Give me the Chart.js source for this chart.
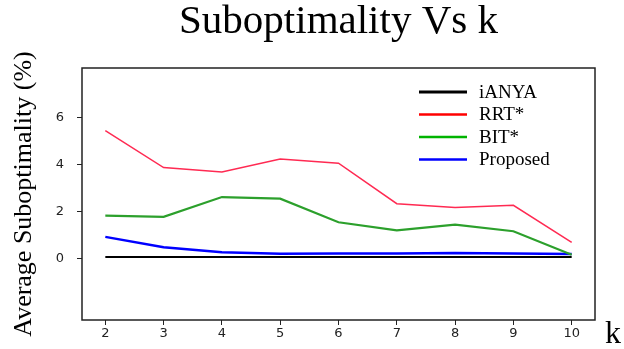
<!DOCTYPE html>
<html>
<head>
<meta charset="utf-8">
<script src="https://cdn.jsdelivr.net/npm/chart.js@4"></script>
<style>
  html, body { margin: 0; padding: 0; background: #fff; }
  #wrap { width: 624px; height: 349px; position: relative; }
</style>
</head>
<body>
<div id="wrap"><canvas id="chart"></canvas></div>
<script>
const kValues = [2, 3, 4, 5, 6, 7, 8, 9, 10];
const iANYA    = [0.07, 0.07, 0.07, 0.07, 0.07, 0.07, 0.07, 0.07, 0.07];
const rrtStar  = [5.44, 3.87, 3.68, 4.24, 4.06, 2.34, 2.18, 2.27, 0.70];
const bitStar  = [1.83, 1.78, 2.62, 2.55, 1.55, 1.21, 1.45, 1.17, 0.17];
const proposed = [0.93, 0.49, 0.28, 0.21, 0.22, 0.22, 0.25, 0.22, 0.20];
const yTicks = [0, 2, 4, 6];
const seriesNames = ['iANYA', 'RRT*', 'BIT*', 'Proposed'];

const lineColors   = ['#000000', '#ff2a52', '#2ca02c', '#0000ff'];
const legendColors = ['#000000', '#ff0000', '#00b400', '#0000ff'];
const lineWidths   = [2, 1.5, 2.2, 2.5];

const serif = '"Liberation Serif", "Times New Roman", serif';
const sans = '"DejaVu Sans", sans-serif';

const toPoints = vals => vals.map((v, i) => ({ x: kValues[i], y: v }));

// frame, title, "k" label and the legend inside the plot
const decorations = {
  id: 'decorations',
  afterDraw(chart) {
    const { ctx, chartArea: a } = chart;
    ctx.save();
    ctx.strokeStyle = '#222';
    ctx.lineWidth = 1.5;
    ctx.strokeRect(a.left, a.top, a.right - a.left, a.bottom - a.top);

    ctx.fillStyle = '#000';
    ctx.font = '41px ' + serif;
    ctx.textAlign = 'center';
    ctx.textBaseline = 'alphabetic';
    ctx.fillText('Suboptimality Vs k', (a.left + a.right) / 2, 33);

    ctx.font = '32px ' + serif;
    ctx.textAlign = 'left';
    ctx.fillText('k', a.right + 10, 343);

    const x0 = a.right - 176;
    ctx.font = '19px ' + serif;
    ctx.textBaseline = 'middle';
    seriesNames.forEach((name, i) => {
      const y = a.top + 24 + i * 22.5;
      ctx.strokeStyle = legendColors[i];
      ctx.lineWidth = i === 0 ? 3 : 2.5;
      ctx.beginPath();
      ctx.moveTo(x0, y);
      ctx.lineTo(x0 + 48, y);
      ctx.stroke();
      ctx.fillStyle = '#000';
      ctx.fillText(name, x0 + 60, y + 1);
    });
    ctx.restore();
  }
};

new Chart(document.getElementById('chart'), {
  type: 'line',
  data: {
    datasets: [iANYA, rrtStar, bitStar, proposed].map((vals, i) => ({
      label: seriesNames[i],
      data: toPoints(vals),
      borderColor: lineColors[i],
      backgroundColor: lineColors[i],
      borderWidth: lineWidths[i],
      pointRadius: 0,
      tension: 0,
      fill: false
    }))
  },
  options: {
    responsive: true,
    maintainAspectRatio: false,
    animation: false,
    layout: { padding: { top: 68, right: 29, left: 0, bottom: 0 } },
    plugins: {
      legend: { display: false },
      title: { display: false },
      tooltip: { enabled: false }
    },
    scales: {
      x: {
        type: 'linear',
        min: 1.6,
        max: 10.4,
        afterBuildTicks: s => { s.ticks = kValues.map(v => ({ value: v })); },
        afterFit: s => { s.height = 29; },
        ticks: { color: '#222', font: { family: sans, size: 13 }, padding: 1, maxRotation: 0 },
        grid: { drawOnChartArea: false, drawTicks: true, tickLength: 5, color: '#222' },
        border: { display: false }
      },
      y: {
        min: -2.6,
        max: 8.1,
        afterBuildTicks: s => { s.ticks = yTicks.map(v => ({ value: v })); },
        afterFit: s => { s.width = 82; },
        ticks: { color: '#222', font: { family: sans, size: 13 }, padding: 13 },
        grid: { drawOnChartArea: false, drawTicks: true, tickLength: 5, color: '#222' },
        border: { display: false },
        title: {
          display: true,
          text: 'Average Suboptimality (%)',
          color: '#000',
          font: { family: serif, size: 26 },
          padding: { top: 9, bottom: 0 }
        }
      }
    }
  },
  plugins: [decorations]
});
</script>
</body>
</html>
